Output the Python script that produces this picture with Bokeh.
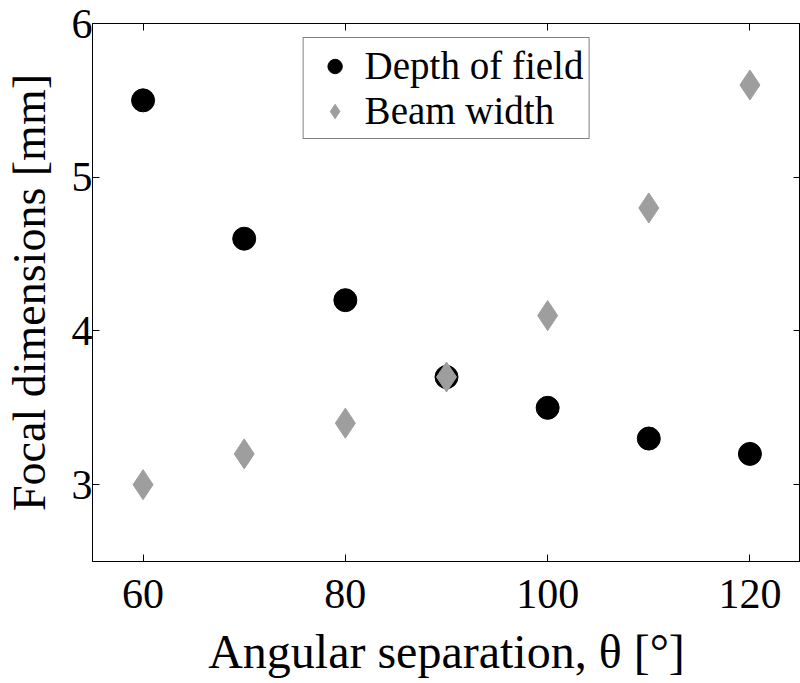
from bokeh.plotting import figure
from bokeh.models import Range1d, LinearAxis, FixedTicker, Legend, LegendItem
from bokeh.embed import file_html
from bokeh.resources import INLINE

angles = [60, 70, 80, 90, 100, 110, 120]
depth_of_field = [5.5, 4.6, 4.2, 3.7, 3.5, 3.3, 3.2]
beam_width = [3.0, 3.2, 3.4, 3.7, 4.1, 4.8, 5.6]
x_ticks = [60, 80, 100, 120]
y_ticks = [3, 4, 5, 6]

FONT = "Liberation Serif"

p = figure(width=800, height=683, output_backend="svg", toolbar_location=None,
           x_range=Range1d(55, 125), y_range=Range1d(2.5, 6),
           min_border_left=90, min_border_top=23, min_border_right=0, min_border_bottom=122)
p.grid.visible = False
p.outline_line_color = "black"
p.outline_line_width = 1
p.background_fill_color = "white"
p.border_fill_color = "white"

for ax in p.xaxis:
    ax.ticker = FixedTicker(ticks=x_ticks)
for ax in p.yaxis:
    ax.ticker = FixedTicker(ticks=y_ticks)

for ax in list(p.xaxis) + list(p.yaxis):
    ax.major_tick_in = 7
    ax.major_tick_out = 0
    ax.minor_tick_in = 0
    ax.minor_tick_out = 0
    ax.axis_line_color = "black"
    ax.major_tick_line_color = "black"
    ax.major_label_text_font = FONT
    ax.major_label_text_font_size = "42px"
    ax.major_label_text_color = "black"
    ax.axis_label_text_font = FONT
    ax.axis_label_text_font_style = "normal"
    ax.axis_label_text_color = "black"
    ax.axis_label_text_line_height = 0.8

p.xaxis.axis_label = "Angular separation, \u03b8 [\u00b0]"
p.yaxis.axis_label = "Focal dimensions [mm]"
p.xaxis.axis_label_text_font_size = "48px"
p.yaxis.axis_label_text_font_size = "46px"
p.xaxis.major_label_standoff = 18
p.xaxis.axis_label_standoff = 14
p.yaxis.major_label_standoff = 0
p.yaxis.axis_label_standoff = 14

top = LinearAxis(ticker=FixedTicker(ticks=x_ticks), major_label_text_font_size="0px",
                 major_tick_in=7, major_tick_out=0, minor_tick_in=0, minor_tick_out=0,
                 major_label_standoff=0, axis_line_color="black", major_label_text_alpha=0)
right = LinearAxis(ticker=FixedTicker(ticks=y_ticks), major_label_text_font_size="0px",
                   major_tick_in=7, major_tick_out=0, minor_tick_in=0, minor_tick_out=0,
                   major_label_standoff=0, axis_line_color="black", major_label_text_alpha=0)
p.add_layout(top, "above")
p.add_layout(right, "right")

r1 = p.scatter(angles, depth_of_field, marker="circle", size=23, fill_color="black", line_color="black")
r2 = p.scatter(angles, beam_width, marker="diamond", size=30, fill_color="#9e9e9e", line_color="#9e9e9e")

legend = Legend(items=[LegendItem(label="Depth of field", renderers=[r1]),
                       LegendItem(label="Beam width", renderers=[r2])],
                location="top_center")
legend.label_text_font = FONT
legend.label_text_font_size = "39px"
legend.label_text_color = "black"
legend.border_line_color = "black"
legend.border_line_width = 1
legend.glyph_width = 52
legend.glyph_height = 36
legend.label_height = 36
legend.spacing = 0
legend.padding = 5
legend.margin = 14
legend.label_standoff = 4
legend.background_fill_alpha = 1
p.add_layout(legend, "center")

open("out.html", "w").write(file_html(p, INLINE))
